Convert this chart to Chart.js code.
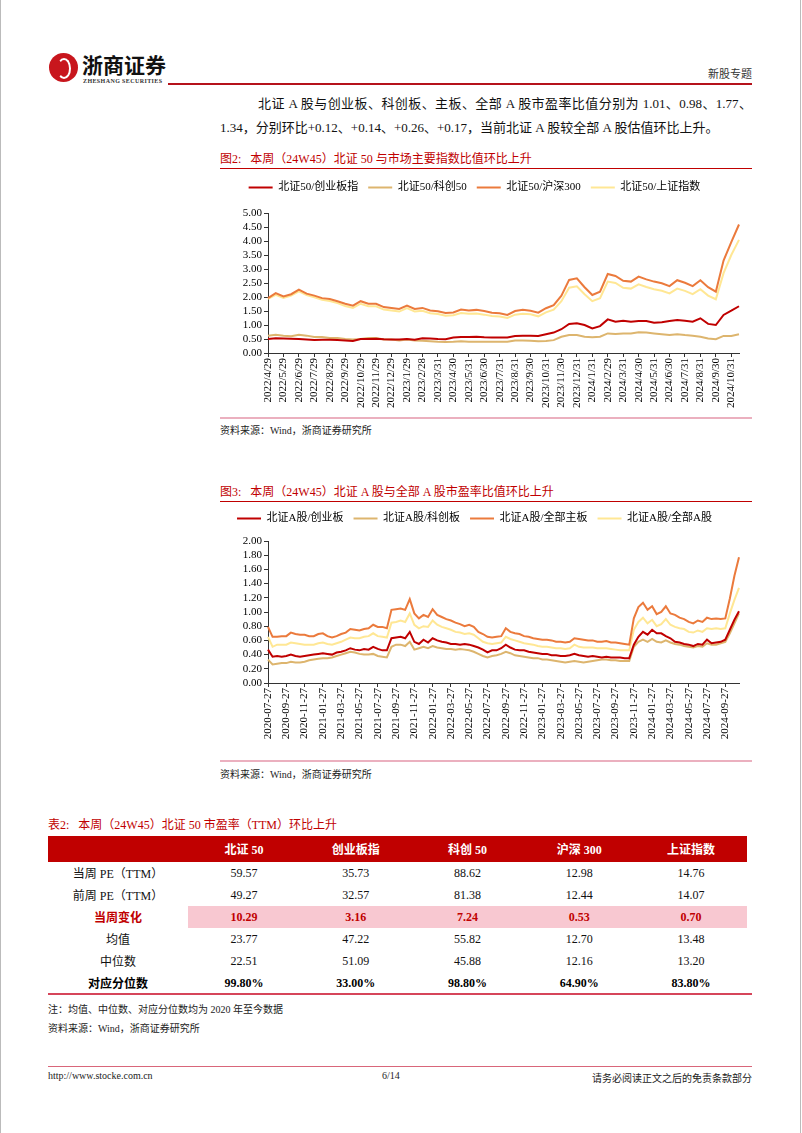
<!DOCTYPE html>
<html lang="zh-CN">
<head>
<meta charset="utf-8">
<title>新股专题</title>
<script src="https://cdn.jsdelivr.net/npm/chart.js@4.4.1/dist/chart.umd.min.js"></script>
<style>
  body { margin: 0; background: #fff; }
  #page { position: relative; width: 802px; height: 1133px; overflow: hidden;
          font-family: "Liberation Serif", "Noto Sans CJK SC", serif; color: #111; }
  .abs { position: absolute; }
  .red { color: #C00000; }
  .rule { position: absolute; height: 1px; background: #C00000; }
  .src { position: absolute; font-size: 10px; color: #222; }
  canvas { position: absolute; }
  table { position: absolute; left: 48px; top: 836px; width: 699px; border-collapse: collapse;
          font-size: 12px; table-layout: fixed; }
  th { background: #C00000; color: #fff; height: 26px; font-weight: bold; padding: 0; }
  td { height: 22px; text-align: center; padding: 0; }
  tr.chg td { font-weight: bold; color: #C00000; }
  tr.chg td.v { background: #F8C8D1; }
  tr.pct td { font-weight: bold; color: #000; }
</style>
</head>
<body>
<div id="page">
  <!-- page edges -->
  <div class="abs" style="left:0;top:0;width:1px;height:1133px;background:#bbb"></div>
  <div class="abs" style="left:800px;top:0;width:1px;height:1133px;background:#bbb"></div>

  <!-- header -->
  <div class="abs" style="left:49px;top:53px;width:29px;height:29px;border-radius:50%;background:#C8161D"></div>
  <div class="abs" style="left:57px;top:58px;width:10px;height:17px;border:2px solid #fff;border-radius:50%;border-left-color:transparent"></div>
  <div class="abs" style="left:82px;top:49px;font-family:'Noto Sans CJK SC';font-weight:bold;font-size:21px;color:#111">浙商证券</div>
  <div class="abs" style="left:83px;top:78px;font-size:6px;font-weight:bold;letter-spacing:0.4px;color:#333">ZHESHANG SECURITIES</div>
  <div class="abs" style="left:168px;top:83px;width:584px;height:2px;background:#B5121B"></div>
  <div class="abs" style="right:50px;top:65px;font-size:11px;color:#333">新股专题</div>

  <!-- paragraph -->
  <div class="abs" style="left:258px;top:94px;width:494px;font-size:13px;line-height:20px;white-space:nowrap;text-align:justify;text-align-last:justify">北证 A 股与创业板、科创板、主板、全部 A 股市盈率比值分别为 1.01、0.98、1.77、</div>
  <div class="abs" style="left:220px;top:118px;font-size:13px;line-height:20px;white-space:nowrap">1.34，分别环比+0.12、+0.14、+0.26、+0.17，当前北证 A 股较全部 A 股估值环比上升。</div>

  <!-- figure 2 -->
  <div class="abs red" style="left:220px;top:149px;font-size:12px">图2:&nbsp;&nbsp;&nbsp;本周（24W45）北证 50 与市场主要指数比值环比上升</div>
  <div class="rule" style="left:220px;top:168px;width:532px"></div>
  <canvas id="c1" width="545" height="240" style="left:210px;top:172px"></canvas>
  <div class="abs" style="left:220px;top:417px;width:532px;height:2px;background:#EBB0BF"></div>
  <div class="src" style="left:220px;top:422px">资料来源：Wind，浙商证券研究所</div>

  <!-- figure 3 -->
  <div class="abs red" style="left:220px;top:482px;font-size:12px">图3:&nbsp;&nbsp;&nbsp;本周（24W45）北证 A 股与全部 A 股市盈率比值环比上升</div>
  <div class="rule" style="left:220px;top:501px;width:532px"></div>
  <canvas id="c2" width="545" height="239" style="left:210px;top:503px"></canvas>
  <div class="abs" style="left:220px;top:760px;width:532px;height:2px;background:#EBB0BF"></div>
  <div class="src" style="left:220px;top:766px">资料来源：Wind，浙商证券研究所</div>

  <!-- table 2 -->
  <div class="abs red" style="left:48px;top:815px;font-size:12px">表2:&nbsp;&nbsp;&nbsp;本周（24W45）北证 50 市盈率（TTM）环比上升</div>
  <table id="tbl"></table>
  <div class="abs" style="left:48px;top:993px;width:704px;height:2px;background:#D6455A"></div>
  <div class="src" style="left:48px;top:1001px">注：均值、中位数、对应分位数均为 2020 年至今数据</div>
  <div class="src" style="left:48px;top:1020px">资料来源：Wind，浙商证券研究所</div>

  <!-- footer -->
  <div class="abs" style="left:48px;top:1066px;width:704px;height:1px;background:#D9667A"></div>
  <div class="src" style="left:48px;top:1070px">http://www.stocke.com.cn</div>
  <div class="src" style="left:382px;top:1070px">6/14</div>
  <div class="src" style="right:50px;top:1070px">请务必阅读正文之后的免责条款部分</div>
</div>

<script>
//Figure 2 tick labels (one a month), data is sampled twice a month
const ticks1 = ['2022/4/29','2022/5/29','2022/6/29','2022/7/29','2022/8/29','2022/9/29','2022/10/29','2022/11/29','2022/12/29','2023/1/29','2023/2/28','2023/3/31','2023/4/30','2023/5/31','2023/6/30','2023/7/31','2023/8/31','2023/9/30','2023/10/31','2023/11/30','2023/12/31','2024/1/31','2024/2/29','2024/3/31','2024/4/30','2024/5/31','2024/6/30','2024/7/31','2024/8/31','2024/9/30','2024/10/31'];
const names1 = ['北证50/创业板指', '北证50/科创50', '北证50/沪深300', '北证50/上证指数'];
const bz50Cyb = [0.50,0.53,0.52,0.51,0.50,0.48,0.46,0.47,0.47,0.46, 0.45,0.43,0.50,0.50,0.51,0.49,0.48,0.48,0.50,0.47, 0.53,0.52,0.50,0.49,0.55,0.57,0.57,0.58,0.56,0.55, 0.55,0.55,0.61,0.62,0.62,0.61,0.67,0.73,0.85,1.04, 1.06,1.00,0.88,0.96,1.20,1.12,1.15,1.12,1.14,1.14, 1.08,1.10,1.14,1.18,1.15,1.12,1.24,1.04,1.00,1.36, 1.51,1.67];
const bz50Kc50 = [0.62,0.65,0.62,0.60,0.65,0.62,0.57,0.57,0.54,0.54, 0.50,0.48,0.50,0.54,0.54,0.48,0.48,0.45,0.48,0.45, 0.44,0.42,0.40,0.39,0.40,0.42,0.40,0.40,0.40,0.40, 0.40,0.40,0.45,0.45,0.44,0.42,0.43,0.46,0.58,0.64, 0.64,0.58,0.56,0.58,0.70,0.68,0.70,0.70,0.74,0.73, 0.70,0.67,0.64,0.67,0.64,0.62,0.58,0.52,0.49,0.61, 0.61,0.67];
const bz50Hs300 = [1.96,2.14,2.02,2.10,2.26,2.12,2.05,1.96,1.93,1.85, 1.76,1.69,1.85,1.76,1.76,1.64,1.61,1.57,1.69,1.57, 1.61,1.52,1.49,1.43,1.45,1.55,1.52,1.54,1.50,1.44, 1.42,1.36,1.50,1.54,1.51,1.44,1.60,1.71,2.05,2.61, 2.67,2.35,2.07,2.19,2.82,2.75,2.58,2.55,2.73,2.63, 2.55,2.49,2.39,2.60,2.51,2.39,2.60,2.35,2.19,3.30, 3.96,4.59];
const bz50Sz = [1.93,2.08,1.97,2.05,2.20,2.07,1.99,1.90,1.86,1.78, 1.68,1.61,1.76,1.67,1.67,1.55,1.52,1.48,1.60,1.48, 1.51,1.42,1.39,1.33,1.35,1.43,1.40,1.41,1.37,1.32, 1.30,1.25,1.37,1.40,1.38,1.31,1.45,1.55,1.85,2.33, 2.38,2.10,1.85,1.96,2.55,2.50,2.33,2.30,2.45,2.36, 2.28,2.22,2.13,2.30,2.22,2.10,2.28,2.05,1.92,2.85, 3.50,4.04];

//Figure 3 tick labels (every two months), data is sampled twice a month
const ticks2 = ['2020-07-27','2020-09-27','2020-11-27','2021-01-27','2021-03-27','2021-05-27','2021-07-27','2021-09-27','2021-11-27','2022-01-27','2022-03-27','2022-05-27','2022-07-27','2022-09-27','2022-11-27','2023-01-27','2023-03-27','2023-05-27','2023-07-27','2023-09-27','2023-11-27','2024-01-27','2024-03-27','2024-05-27','2024-07-27','2024-09-27'];
const names2 = ['北证A股/创业板', '北证A股/科创板', '北证A股/全部主板', '北证A股/全部A股'];
const bjCyb = [0.47,0.37,0.38,0.37,0.38,0.40,0.38,0.37,0.38,0.39, 0.40,0.41,0.42,0.41,0.40,0.43,0.44,0.46,0.49,0.47, 0.46,0.48,0.47,0.51,0.48,0.46,0.46,0.63,0.64,0.65, 0.63,0.72,0.58,0.55,0.61,0.57,0.63,0.60,0.58,0.57, 0.55,0.55,0.54,0.55,0.54,0.52,0.50,0.47,0.43,0.46, 0.46,0.49,0.54,0.50,0.47,0.46,0.46,0.44,0.43,0.42, 0.41,0.41,0.39,0.39,0.38,0.38,0.39,0.41,0.39,0.38, 0.37,0.38,0.37,0.36,0.37,0.36,0.36,0.36,0.35,0.35, 0.54,0.65,0.72,0.68,0.75,0.70,0.70,0.66,0.63,0.58, 0.57,0.55,0.54,0.52,0.55,0.54,0.61,0.56,0.57,0.58, 0.61,0.75,0.89,1.01];
const bjKcb = [0.33,0.26,0.27,0.28,0.28,0.30,0.29,0.29,0.30,0.32, 0.33,0.34,0.35,0.35,0.36,0.38,0.40,0.42,0.44,0.43, 0.41,0.40,0.40,0.41,0.38,0.37,0.36,0.51,0.54,0.54, 0.52,0.58,0.47,0.49,0.51,0.49,0.52,0.50,0.49,0.48, 0.48,0.47,0.48,0.47,0.46,0.44,0.41,0.38,0.36,0.38, 0.39,0.41,0.44,0.42,0.39,0.38,0.37,0.36,0.35,0.35, 0.33,0.33,0.32,0.31,0.30,0.29,0.30,0.31,0.30,0.29, 0.30,0.31,0.32,0.33,0.33,0.32,0.32,0.31,0.31,0.31, 0.51,0.58,0.61,0.58,0.62,0.58,0.57,0.60,0.57,0.55, 0.54,0.52,0.51,0.50,0.52,0.51,0.56,0.54,0.54,0.56, 0.58,0.70,0.84,0.98];
const bjZb = [0.79,0.65,0.65,0.66,0.66,0.71,0.69,0.68,0.68,0.66, 0.66,0.69,0.70,0.66,0.64,0.66,0.69,0.71,0.76,0.75, 0.74,0.76,0.77,0.82,0.79,0.79,0.77,1.03,1.04,1.05, 1.03,1.18,0.98,0.91,0.96,0.93,1.04,0.96,0.93,0.90, 0.88,0.85,0.83,0.80,0.82,0.79,0.72,0.69,0.65,0.64, 0.65,0.66,0.77,0.72,0.70,0.69,0.66,0.65,0.63,0.62, 0.61,0.61,0.60,0.58,0.58,0.57,0.58,0.63,0.62,0.61, 0.60,0.60,0.58,0.58,0.59,0.57,0.57,0.56,0.55,0.54, 0.91,1.07,1.13,1.03,1.08,0.97,1.00,1.08,0.98,0.96, 0.92,0.90,0.86,0.84,0.88,0.86,0.92,0.90,0.91,0.90, 0.91,1.19,1.51,1.77];
const bjQa = [0.65,0.51,0.54,0.54,0.54,0.57,0.56,0.55,0.54,0.54, 0.54,0.56,0.57,0.55,0.54,0.56,0.58,0.61,0.64,0.63, 0.63,0.65,0.66,0.70,0.66,0.65,0.64,0.85,0.86,0.88, 0.86,0.98,0.82,0.77,0.80,0.79,0.88,0.82,0.79,0.77, 0.75,0.72,0.71,0.69,0.70,0.68,0.63,0.58,0.56,0.55, 0.56,0.57,0.65,0.62,0.60,0.58,0.56,0.55,0.54,0.52, 0.51,0.51,0.50,0.49,0.49,0.48,0.49,0.54,0.51,0.50, 0.50,0.50,0.49,0.49,0.49,0.48,0.47,0.46,0.46,0.46, 0.75,0.86,0.92,0.84,0.89,0.80,0.83,0.90,0.82,0.79, 0.77,0.76,0.72,0.71,0.74,0.72,0.77,0.76,0.77,0.76, 0.77,0.98,1.17,1.34];

//Table 2
const tblCols = ['北证 50', '创业板指', '科创 50', '沪深 300', '上证指数'];
const tblRows = ['当周 PE（TTM）', '前周 PE（TTM）', '当周变化', '均值', '中位数', '对应分位数'];
const peNow = ['59.57', '35.73', '88.62', '12.98', '14.76'];
const pePrev = ['49.27', '32.57', '81.38', '12.44', '14.07'];
const peChg = ['10.29', '3.16', '7.24', '0.53', '0.70'];
const peMean = ['23.77', '47.22', '55.82', '12.70', '13.48'];
const peMedian = ['22.51', '51.09', '45.88', '12.16', '13.20'];
const pePct = ['99.80%', '33.00%', '98.80%', '64.90%', '83.80%'];

const lineColors = ['#C00000', '#DDB56E', '#EB7A3C', '#FFE794'];
const fontFamily = "'Liberation Serif', 'Noto Sans CJK SC', serif";

//tick labels list + blank slots between them
const buildLabels = (ticks, between, tail) => {
  const out = [];
  ticks.forEach((t, i) => {
    out.push(t);
    if (i < ticks.length - 1) for (let k = 0; k < between; k++) out.push('');
  });
  for (let k = 0; k < tail; k++) out.push('');
  return out;
};

//fixed legend height so the plot area lines up with the page
const legendHeight = (h) => ({
  id: 'legendHeight',
  beforeInit(chart) {
    const fit = chart.legend.fit;
    chart.legend.fit = function () {
      fit.call(this);
      this.height = h;
    };
  }
});

const makeChart = (id, labels, names, series, yMax, yStep, legendH) => {
  return new Chart(document.getElementById(id), {
    type: 'line',
    plugins: [legendHeight(legendH)],
    data: {
      labels: labels,
      datasets: series.map((s, i) => ({
        label: names[i],
        data: s,
        borderColor: lineColors[i],
        backgroundColor: lineColors[i],
        borderWidth: 2,
        pointRadius: 0,
        tension: 0
      }))
    },
    options: {
      responsive: false,
      devicePixelRatio: 1,
      animation: false,
      layout: { padding: { right: 16 } },
      plugins: {
        tooltip: { enabled: false },
        legend: {
          position: 'top',
          labels: {
            boxWidth: 24,
            boxHeight: 2,
            padding: 10,
            color: '#000',
            font: { size: 11, family: fontFamily },
            generateLabels: (chart) => Chart.defaults.plugins.legend.labels.generateLabels(chart).map(l => ({ ...l, lineWidth: 0 }))
          }
        }
      },
      scales: {
        x: {
          offset: false,
          border: { color: '#333', width: 1 },
          grid: { drawOnChartArea: false, tickLength: 4, color: '#333' },
          ticks: {
            autoSkip: false,
            minRotation: 90,
            maxRotation: 90,
            padding: 1,
            color: '#000',
            font: { size: 11, family: fontFamily },
            callback: function (v) {
              const l = this.getLabelForValue(v);
              return l === '' ? null : l;
            }
          },
          afterFit: (s) => { s.height = 59; }
        },
        y: {
          min: 0,
          max: yMax,
          border: { color: '#333', width: 1 },
          grid: { drawOnChartArea: false, tickLength: 4, color: '#333' },
          ticks: {
            stepSize: yStep,
            autoSkip: false,
            padding: 2,
            color: '#000',
            font: { size: 11, family: fontFamily },
            callback: (v) => v.toFixed(2)
          },
          afterFit: (s) => { s.width = 58; }
        }
      }
    }
  });
};

makeChart('c1', buildLabels(ticks1, 1, 1), names1, [bz50Cyb, bz50Kc50, bz50Hs300, bz50Sz], 5, 0.5, 41);
makeChart('c2', buildLabels(ticks2, 3, 3), names2, [bjCyb, bjKcb, bjZb, bjQa], 2, 0.2, 38);

//Table body
const tbl = document.getElementById('tbl');
let html = '<colgroup><col style="width:140px">' + tblCols.map(() => '<col>').join('') + '</colgroup>';
html += '<tr><th></th>' + tblCols.map(c => `<th>${c}</th>`).join('') + '</tr>';
const rowData = [peNow, pePrev, peChg, peMean, peMedian, pePct];
const rowClass = ['', '', 'chg', '', '', 'pct'];
tblRows.forEach((r, i) => {
  html += `<tr class="${rowClass[i]}"><td>${r}</td>` + rowData[i].map(v => `<td class="v">${v}</td>`).join('') + '</tr>';
});
tbl.innerHTML = html;
</script>
</body>
</html>
